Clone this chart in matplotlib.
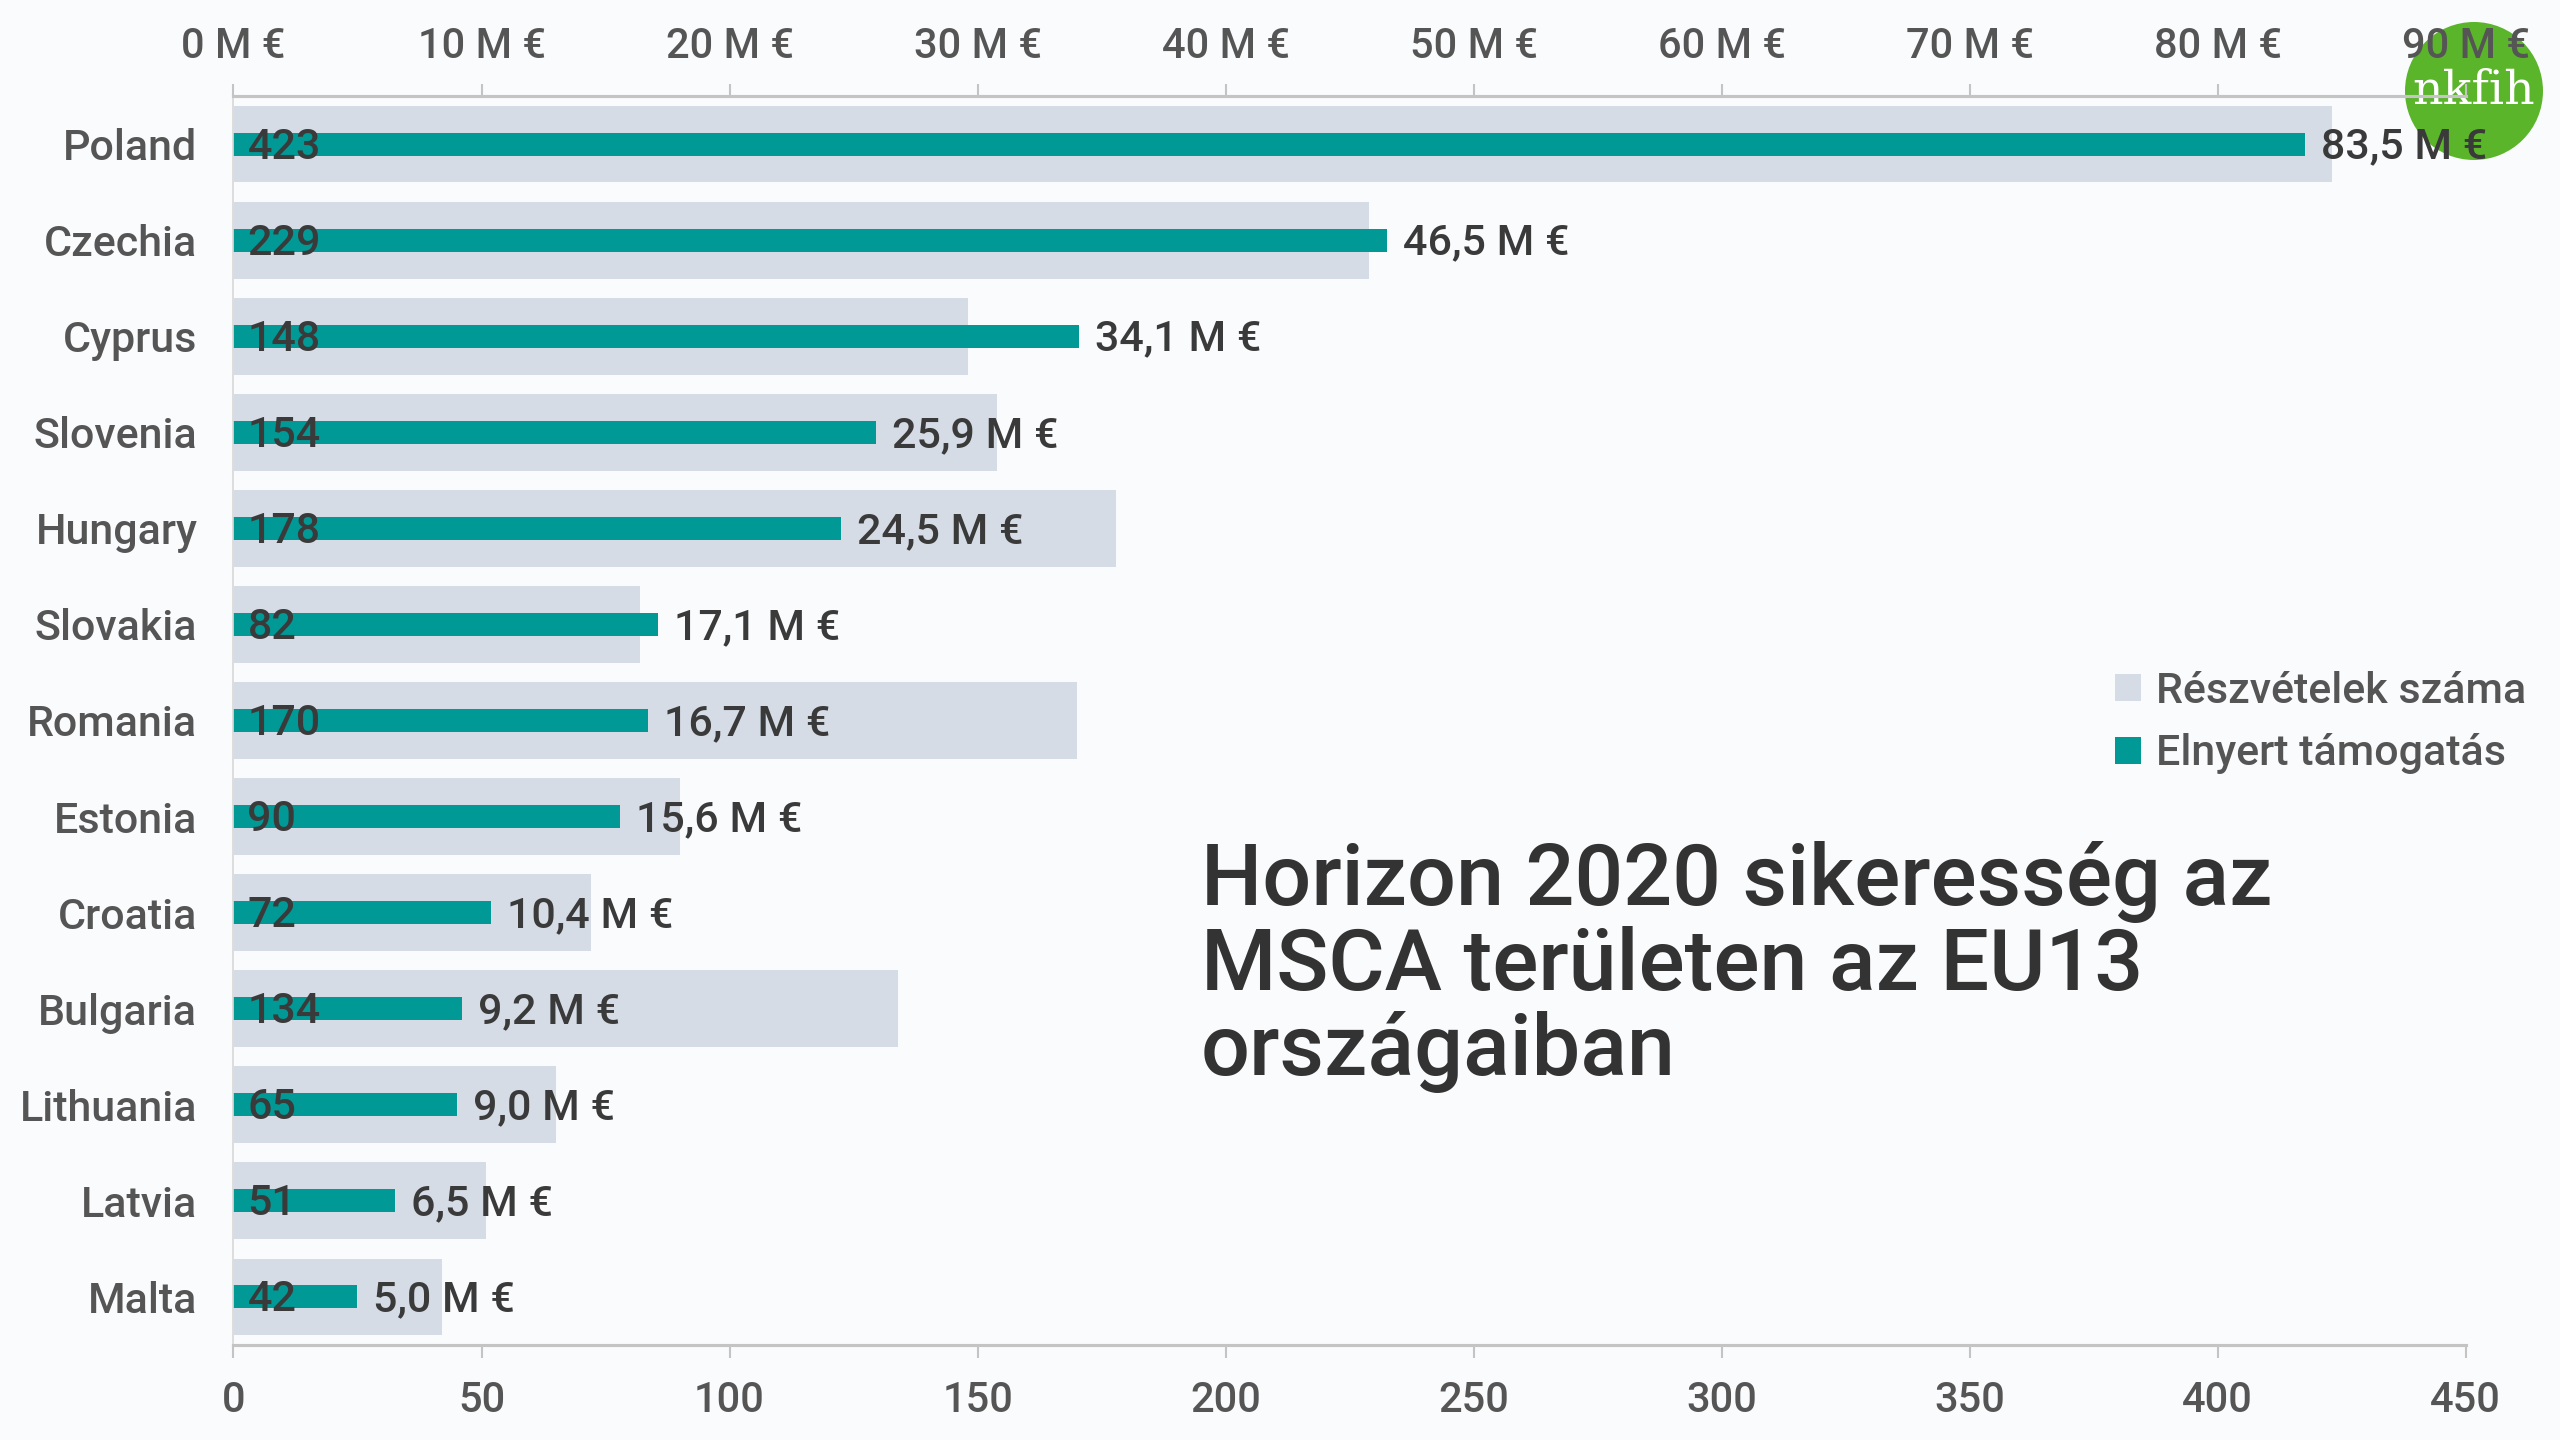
import matplotlib
matplotlib.use("Agg")
import matplotlib.pyplot as plt
from matplotlib.patches import Ellipse, Patch

countries = ["Poland", "Czechia", "Cyprus", "Slovenia", "Hungary", "Slovakia", "Romania",
             "Estonia", "Croatia", "Bulgaria", "Lithuania", "Latvia", "Malta"]
participations = [423, 229, 148, 154, 178, 82, 170, 90, 72, 134, 65, 51, 42]
funding = [83.5, 46.5, 34.1, 25.9, 24.5, 17.1, 16.7, 15.6, 10.4, 9.2, 9.0, 6.5, 5.0]
bottom_ticks = [0, 50, 100, 150, 200, 250, 300, 350, 400, 450]
top_ticks = [0, 10, 20, 30, 40, 50, 60, 70, 80, 90]
legend_labels = ["Részvételek száma", "Elnyert támogatás"]
title = "Horizon 2020 sikeresség az\nMSCA területen az EU13\nországaiban"

FONT = ["Roboto", "DejaVu Sans"]
plt.rcParams["font.family"] = FONT
plt.rcParams["font.weight"] = "medium"

BG = "#fafbfd"
GREY = "#d5dce6"
TEAL = "#009995"
TXT = "#555555"
DARK = "#3a3a3a"
SPINE = "#c4c4c4"

fig = plt.figure(figsize=(25.6, 14.4), dpi=100, facecolor=BG)
ax = fig.add_axes([0.0912, 1 - 1345 / 1440, 0.872, 1249 / 1440])
ax.set_facecolor("none")

y = list(range(len(countries)))
ax.barh(y, participations, height=0.8, color=GREY, zorder=1)
ax.set_xlim(0, 450)
ax.set_ylim(len(countries) - 0.5, -0.5)
ax.set_yticks(y)
ax.set_yticklabels(countries)
ax.set_xticks(bottom_ticks)
ax.set_xticklabels([str(t) for t in bottom_ticks])
ax.tick_params(axis="y", length=0, pad=26, labelsize=31, labelcolor=TXT)
ax.tick_params(axis="x", length=9, width=1.5, color=SPINE, pad=16, labelsize=30, labelcolor=TXT)

ax2 = ax.twiny()
ax2.set_facecolor("none")
ax2.barh(y, funding, height=0.24, color=TEAL, zorder=2)
ax2.set_xlim(0, 90)
ax2.set_xticks(top_ticks)
ax2.set_xticklabels([f"{t} M €" for t in top_ticks])
ax2.tick_params(axis="x", length=9, width=1.5, color=SPINE, pad=12, labelsize=30, labelcolor=TXT)

for a in (ax, ax2):
    a.spines["right"].set_visible(False)
    a.spines["top"].set_color(SPINE)
    a.spines["bottom"].set_color(SPINE)
    a.spines["left"].set_color("#dddddd")
    a.spines["top"].set_linewidth(2.2)
    a.spines["bottom"].set_linewidth(2.2)
    a.spines["left"].set_linewidth(1.2)

for yi, p in zip(y, participations):
    ax2.annotate(str(p), xy=(0, yi), xytext=(14, -3), textcoords="offset pixels",
                 ha="left", va="center", fontsize=31, color=DARK, zorder=5)

for yi, f in zip(y, funding):
    lab = f"{f:.1f}".replace(".", ",") + " M €"
    ax2.annotate(lab, xy=(f, yi), xytext=(16, -3), textcoords="offset pixels",
                 ha="left", va="center", fontsize=31, color=DARK, zorder=5)

handles = [Patch(facecolor=GREY, edgecolor="none"), Patch(facecolor=TEAL, edgecolor="none")]
leg = fig.legend(handles, legend_labels, loc="upper left", bbox_to_anchor=(0.811, 0.561),
                 frameon=False, fontsize=31, handlelength=0.6, handleheight=0.6,
                 handletextpad=0.35, labelspacing=0.5, labelcolor=TXT)

fig.text(0.469, 0.3285, title, ha="left", va="center", fontsize=62, color="#333333",
         linespacing=1.05, fontweight="medium")

# logo
cx, cy, r = 2474, 91, 69
logo = Ellipse((cx / 2560, 1 - cy / 1440), 2 * r / 2560, 2 * r / 1440,
               transform=fig.transFigure, facecolor="#5ab52a", edgecolor="none", zorder=-1)
fig.patches.append(logo)
fig.text(cx / 2560, 1 - cy / 1440, "nkfih", ha="center", va="center", fontsize=34,
         color="white", family=["DejaVu Serif"], zorder=-0.5)

fig.savefig("out.png", dpi=100, facecolor=BG)
